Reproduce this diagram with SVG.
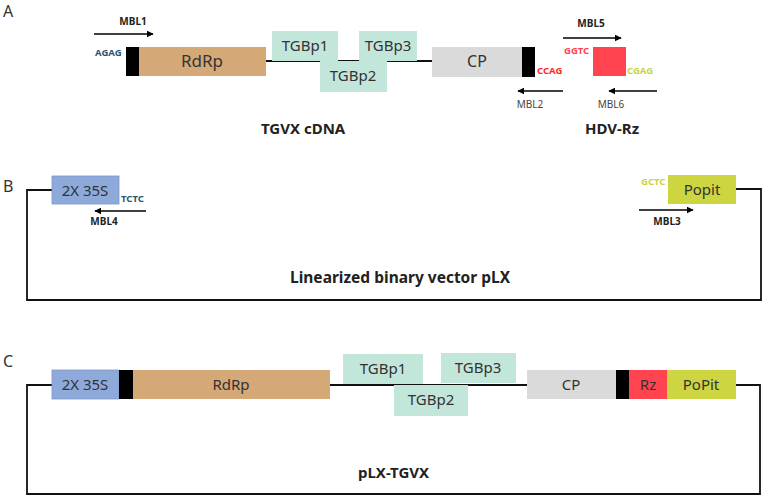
<svg xmlns="http://www.w3.org/2000/svg" width="763" height="496" viewBox="0 0 763 496">
<defs>
<marker id="ah" viewBox="0 0 10 10" refX="9" refY="5" markerWidth="7" markerHeight="7" markerUnits="userSpaceOnUse" orient="auto"><path d="M0,0 L10,5 L0,10 z" fill="#000"/></marker>
<style>
text{font-family:"Noto Sans","Open Sans",sans-serif;}
.lbl{font-size:15px;fill:#333;text-anchor:middle;}
.pl{font-size:16px;fill:#333;}
.sm{font-size:10px;font-weight:bold;fill:#222;text-anchor:middle;}
.smn{font-size:10px;fill:#444;text-anchor:middle;}
.seq{font-size:9.5px;font-weight:bold;}
.title{font-size:15px;font-weight:bold;fill:#222;}
.line{fill:none;stroke:#111;stroke-width:1.8;}
.arr{stroke:#000;stroke-width:1.6;marker-end:url(#ah);}
.rd{fill:#d5a878;}.tg{fill:#c3e6db;}.cp{fill:#dadada;}.bk{fill:#000;}.rz{fill:#ff4450;}.ss{fill:#8eaadb;stroke:#7d97c6;stroke-width:0.8;}.po{fill:#cdd540;}
</style>
</defs>
<g id="panel-labels">
<text class="pl" x="3" y="17">A</text>
<text class="pl" x="3" y="192">B</text>
<text class="pl" x="3" y="367">C</text>
</g>
<g id="connectors">
<line class="line" x1="266" y1="61" x2="432" y2="61"/>
<polyline class="line" points="52,190 27,190 27,300 761,300 761,189 736,189"/>
<polyline class="line" points="52,385 27,385 27,494 760,494 760,385 736,385"/>
<line class="line" x1="330" y1="385" x2="527" y2="385"/>
<line class="arr" x1="94" y1="34" x2="153" y2="34"/>
<line class="arr" x1="563" y1="91" x2="518" y2="91"/>
<line class="arr" x1="563" y1="38" x2="621" y2="38"/>
<line class="arr" x1="657" y1="91" x2="609" y2="91"/>
<line class="arr" x1="146" y1="211" x2="95" y2="211"/>
<line class="arr" x1="639" y1="210" x2="693" y2="210"/>
</g>
<g id="a-primers">
<text class="sm" x="133" y="25">MBL1</text>
<text class="smn" x="530" y="108">MBL2</text>
<text class="sm" x="591" y="27">MBL5</text>
<text class="smn" x="611" y="108">MBL6</text>
<text class="seq" x="95" y="56" fill="#2d5670">AGAG</text>
<text class="seq" x="537" y="74" fill="#ff2a2a">CCAG</text>
<text class="seq" x="564" y="54" fill="#ff4450">GGTC</text>
<text class="seq" x="627" y="74" fill="#c8d24a">CGAG</text>
</g>
<g id="a-black1"><rect class="bk" x="126" y="47" width="13" height="29"/></g>
<g id="a-rdrp"><rect class="rd" x="139" y="47" width="127" height="29"/><text class="lbl" x="202" y="67" style="font-size:17px">RdRp</text></g>
<g id="a-tgbp1"><rect class="tg" x="272" y="31" width="66" height="30"/><text class="lbl" x="305" y="51">TGBp1</text></g>
<g id="a-tgbp3"><rect class="tg" x="359" y="31" width="58" height="30"/><text class="lbl" x="388" y="51">TGBp3</text></g>
<g id="a-tgbp2"><rect class="tg" x="320" y="61" width="67" height="31"/><text class="lbl" x="353" y="81">TGBp2</text></g>
<g id="a-cp"><rect class="cp" x="432" y="47" width="90" height="30"/><text class="lbl" x="477" y="67" style="font-size:16px">CP</text></g>
<g id="a-black2"><rect class="bk" x="522" y="47" width="13" height="30"/></g>
<g id="a-hdv"><rect class="rz" x="593" y="47" width="33" height="29"/></g>
<g id="a-titles">
<text class="title" x="261" y="134">TGVX cDNA</text>
<text class="title" x="585" y="134">HDV-Rz</text>
</g>
<g id="b-35s"><rect class="ss" x="52" y="176" width="67" height="28"/><text class="lbl" x="85" y="196">2X 35S</text></g>
<g id="b-popit"><rect class="po" x="668" y="175" width="68" height="29"/><text class="lbl" x="702" y="195">Popit</text></g>
<g id="b-primers">
<text class="seq" x="121" y="202" fill="#2d5670">TCTC</text>
<text class="sm" x="104" y="225">MBL4</text>
<text class="seq" x="641" y="185" fill="#c8d24a">GCTC</text>
<text class="sm" x="667" y="225">MBL3</text>
<text class="title" x="290" y="283" style="font-size:15.5px">Linearized binary vector pLX</text>
</g>
<g id="c-35s"><rect class="ss" x="52" y="370" width="67" height="29"/><text class="lbl" x="85" y="390">2X 35S</text></g>
<g id="c-black1"><rect class="bk" x="119" y="370" width="14" height="29"/></g>
<g id="c-rdrp"><rect class="rd" x="133" y="370" width="197" height="29"/><text class="lbl" x="231" y="390">RdRp</text></g>
<g id="c-tgbp1"><rect class="tg" x="343" y="354" width="80" height="30"/><text class="lbl" x="383" y="374">TGBp1</text></g>
<g id="c-tgbp3"><rect class="tg" x="441" y="353" width="75" height="30"/><text class="lbl" x="478" y="373">TGBp3</text></g>
<g id="c-tgbp2"><rect class="tg" x="394" y="385" width="74" height="31"/><text class="lbl" x="431" y="405">TGBp2</text></g>
<g id="c-cp"><rect class="cp" x="527" y="370" width="89" height="29"/><text class="lbl" x="571" y="390">CP</text></g>
<g id="c-black2"><rect class="bk" x="616" y="370" width="13" height="29"/></g>
<g id="c-rz"><rect class="rz" x="629" y="370" width="38" height="29"/><text class="lbl" x="648" y="390">Rz</text></g>
<g id="c-popit"><rect class="po" x="667" y="370" width="69" height="29"/><text class="lbl" x="701" y="390">PoPit</text></g>
<g id="c-title"><text class="title" x="358" y="478">pLX-TGVX</text></g>
</svg>
